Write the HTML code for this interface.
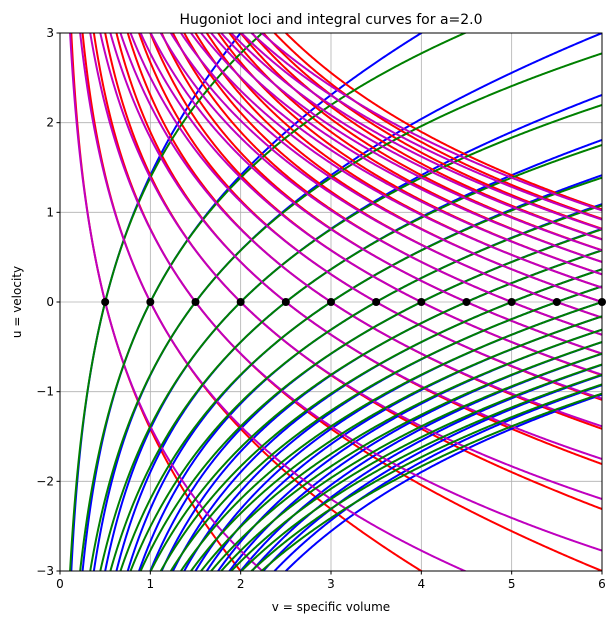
<!DOCTYPE html>
<html><head><meta charset="utf-8"><style>
html,body{margin:0;padding:0;background:#fff;overflow:hidden;width:616px;height:624px;font-family:"Liberation Sans","DejaVu Sans",sans-serif;}
svg{display:block;}
svg text{font-family:"DejaVu Sans","Liberation Sans",sans-serif;}
</style></head><body>
<svg id="c" width="616" height="624" xmlns="http://www.w3.org/2000/svg">
<defs><clipPath id="clip"><rect x="60" y="33" width="542" height="538"/></clipPath></defs>
<rect x="0" y="0" width="616" height="624" fill="#fff"/>
<g id="grid"></g>
<g id="curves" clip-path="url(#clip)"></g>
<g id="pts"></g>
<rect x="60" y="33" width="542" height="538" fill="none" stroke="#000" stroke-width="1"/>
<g id="ticks"></g>
<text x="331" y="24" text-anchor="middle" font-size="14">Hugoniot loci and integral curves for a=2.0</text>
<text x="331" y="611" text-anchor="middle" font-size="12">v = specific volume</text>
<text x="21" y="302" text-anchor="middle" font-size="12" transform="rotate(-90 21 302)">u = velocity</text>
</svg>
<script>
const a = 2.0;
const v0s = [0.5,1,1.5,2,2.5,3,3.5,4,4.5,5,5.5,6,6.5,7,7.5,8,8.5,9,9.5,10];
const u0s = [0,0,0,0,0,0,0,0,0,0,0,0,0,0,0,0,0,0,0,0];
const xTicks = [0,1,2,3,4,5,6];
const yTicks = [-3,-2,-1,0,1,2,3];
const X0=60,X1=602,Y0=571,Y1=33;
const sx=v=>X0+(v-0)/(6-0)*(X1-X0);
const sy=u=>Y0-(u+3)/6*(Y0-Y1);
const NS="http://www.w3.org/2000/svg";
function mk(t,at,parent){const e=document.createElementNS(NS,t);for(const k in at)e.setAttribute(k,at[k]);parent.appendChild(e);return e;}
const grid=document.getElementById('grid'),ticks=document.getElementById('ticks');
xTicks.forEach(t=>{
 const g=mk('line',{x1:sx(t),x2:sx(t),y1:Y1,y2:Y0,stroke:'#b0b0b0','stroke-width':0.8},grid);
 
 
 mk('line',{x1:sx(t),x2:sx(t),y1:Y0,y2:Y0+3.5,stroke:'#000'},ticks);
 const tx=mk('text',{x:sx(t),y:Y0+17,'text-anchor':'middle','font-size':12},ticks);tx.textContent=t;
 
 
});
yTicks.forEach(t=>{
 const g=mk('line',{x1:X0,x2:X1,y1:sy(t),y2:sy(t),stroke:'#b0b0b0','stroke-width':0.8},grid);
 
 
 mk('line',{x1:X0-3.5,x2:X0,y1:sy(t),y2:sy(t),stroke:'#000'},ticks);
 const tx=mk('text',{x:X0-6,y:sy(t)+4,'text-anchor':'end','font-size':12},ticks);tx.textContent=(t<0?'\u2212'+(-t):t);
 
 
});
const curves=document.getElementById('curves');
function draw(f,color,name){
 let d='';
 for(let i=0;i<=600;i++){const v=0.01+i*(6.05-0.01)/600;let u=f(v);u=Math.max(-50,Math.min(50,u));d+=(i?'L':'M')+sx(v).toFixed(2)+','+sy(u).toFixed(2);}
 const p=mk('path',{d:d,fill:'none',stroke:color,'stroke-width':2},curves);
 
 
}
v0s.forEach((v0,i)=>{const u0=u0s[i];
 draw(v=>u0-a*(v-v0)/Math.sqrt(v*v0),'#ff0000','hugoniot-1');
 draw(v=>u0+a*(v-v0)/Math.sqrt(v*v0),'#0000ff','hugoniot-2');
});
v0s.forEach((v0,i)=>{const u0=u0s[i];
 draw(v=>u0-a*Math.log(v/v0),'#bf00bf','integral-curve-1');
 draw(v=>u0+a*Math.log(v/v0),'#008000','integral-curve-2');
});
const pts=document.getElementById('pts');
v0s.forEach((v0,i)=>{
 if(v0>6) return;
 const c=mk('circle',{cx:sx(v0),cy:sy(u0s[i]),r:4,fill:'#000'},pts);
 
 
});
</script>
</body></html>
